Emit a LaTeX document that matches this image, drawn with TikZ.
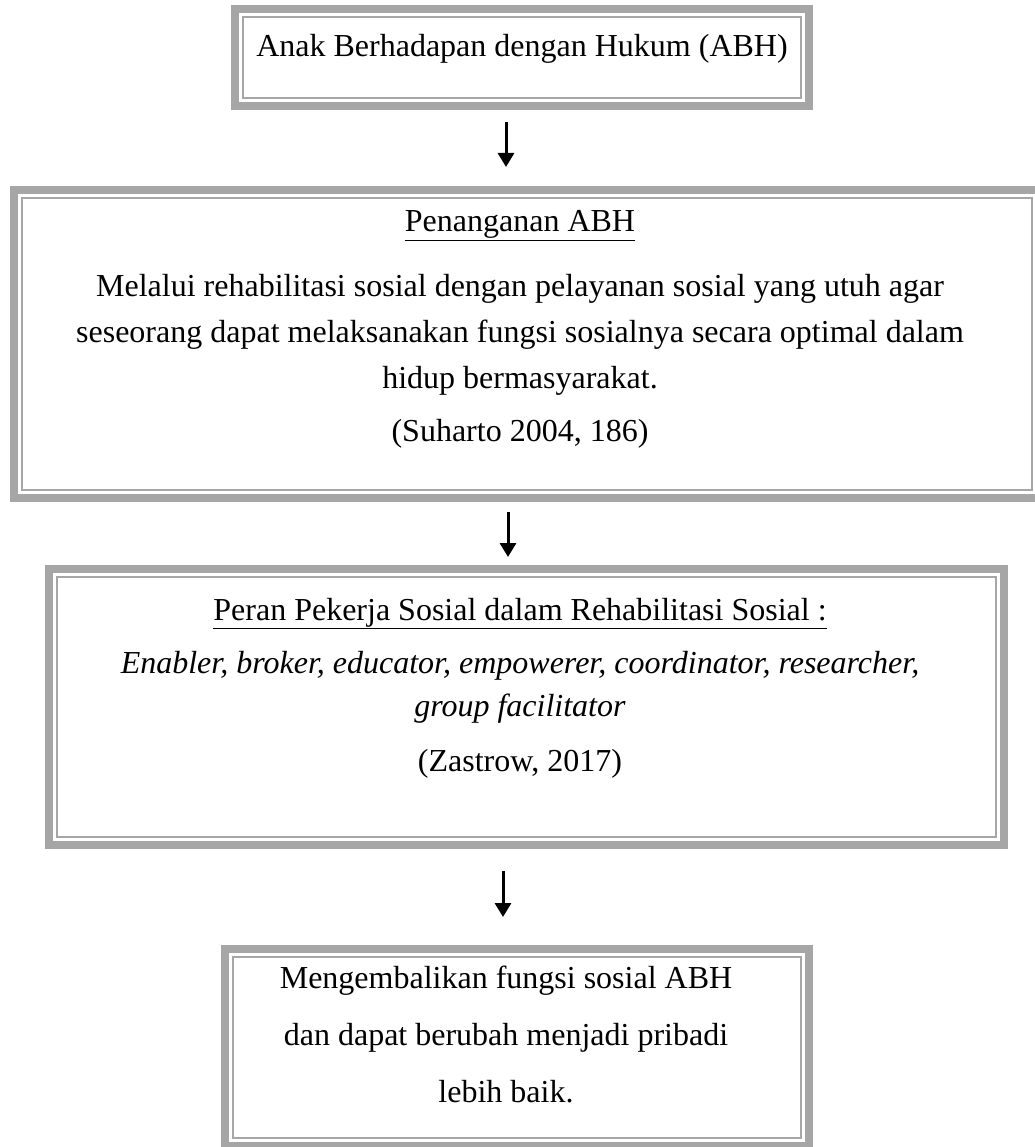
\documentclass[tikz,border=0pt]{standalone}
\usepackage{fontspec}
\setmainfont{Liberation Serif}
\usetikzlibrary{arrows.meta}
\definecolor{frm}{HTML}{A6A6A6}
\begin{document}
\begin{tikzpicture}[x=1pt,y=-1pt,
  frame/.style={draw=frm, line width=8pt, rectangle, inner sep=0pt, outer sep=0pt},
  innerline/.style={draw=frm, line width=2pt},
  txt/.style={anchor=base, inner sep=0pt, font=\fontsize{32}{38}\selectfont},
  arr/.style={line width=3pt, -{Triangle[length=14pt,width=16pt]}}
]
\useasboundingbox[fill=white] (0,0) rectangle (1034,1147);
% boxes
\node[frame, minimum width=574pt, minimum height=97pt] (b1) at (522,57.5) {};
\node[frame, minimum width=1026pt, minimum height=308pt] (b2) at (527,344) {};
\node[frame, minimum width=955pt, minimum height=276pt] (b3) at (526.5,707) {};
\node[frame, minimum width=584pt, minimum height=197pt] (b4) at (517,1047.5) {};
\foreach \b in {b1,b2,b3,b4}{
  \draw[innerline] ([shift={(8pt,-8pt)}]\b.north west) rectangle ([shift={(-8pt,8pt)}]\b.south east);
}
% texts
\node[txt] (t1) at (522,57) {Anak Berhadapan dengan Hukum (ABH)};
\node[txt] (t2a) at (520,232) {\underline{Penanganan ABH}};
\node[txt] (t2b) at (520,296) {Melalui rehabilitasi sosial dengan pelayanan sosial yang utuh agar};
\node[txt] (t2c) at (520,342) {seseorang dapat melaksanakan fungsi sosialnya secara optimal dalam};
\node[txt] (t2d) at (520,388) {hidup bermasyarakat.};
\node[txt] (t2e) at (520,441) {(Suharto 2004, 186)};
\node[txt] (t3a) at (520,620) {\underline{Peran Pekerja Sosial dalam Rehabilitasi Sosial :}};
\node[txt] (t3b) at (520,673) {\textit{Enabler, broker, educator, empowerer, coordinator, researcher,}};
\node[txt] (t3c) at (520,716) {\textit{group facilitator}};
\node[txt] (t3d) at (520,771) {(Zastrow, 2017)};
\node[txt] (t4a) at (506,988) {Mengembalikan fungsi sosial ABH};
\node[txt] (t4b) at (506,1045) {dan dapat berubah menjadi pribadi};
\node[txt] (t4c) at (506,1102) {lebih baik.};
% arrows
\coordinate (x1) at (506,0);
\coordinate (x2) at (508,0);
\coordinate (x3) at (503,0);
\draw[arr, shorten <=16pt, shorten >=23pt] (b1.south -| x1) -- (b2.north -| x1);
\draw[arr, shorten <=14pt, shorten >=12pt] (b2.south -| x2) -- (b3.north -| x2);
\draw[arr, shorten <=26pt, shorten >=32pt] (b3.south -| x3) -- (b4.north -| x3);
\end{tikzpicture}
\end{document}
